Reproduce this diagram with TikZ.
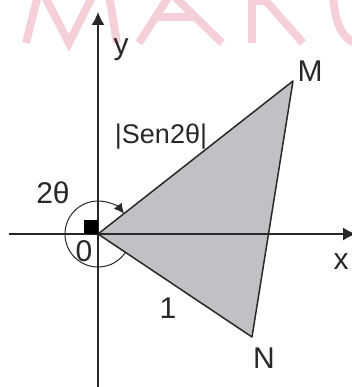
\documentclass[tikz,border=0pt]{standalone}
\usepackage{fontspec}
\setmainfont{Liberation Sans}
\usetikzlibrary{arrows.meta}
\definecolor{wmpink}{RGB}{246,208,216}
\definecolor{trifill}{RGB}{192,193,196}
\definecolor{ink}{RGB}{40,40,40}

\begin{document}
\begin{tikzpicture}[x=1pt, y=1pt, every node/.style={font=\fontsize{30}{30}\selectfont, text=ink, inner sep=0pt}, >={Latex[length=13pt, width=13pt]}]
	\useasboundingbox (0,0) rectangle (351,387);
	% watermark letters at the top, only their feet show
	\begin{scope}[wmpink, line width=8pt]
		\draw (26,344) -- (38,392);
		\draw (44,392) -- (69,344) -- (93,392);
		\draw (109,392) -- (117,344);
		\draw (139,344) -- (171,394) -- (222,344);
		\draw (157,370) -- (196,370);
		\draw (252,344) -- (252,392);
		\draw (252,386) -- (266,386) -- (303,344);
		\draw (333,392) .. controls (335,362) and (343,348) .. (356,344);
	\end{scope}
	\coordinate (O) at (98,153);
	\coordinate (M) at (293,306);
	\coordinate (N) at (252,50);
	\coordinate (xl) at (9,153); \coordinate (xr) at (356,153);
	\coordinate (yb) at (98,-5); \coordinate (yt) at (98,375);
	\fill[trifill] (O) -- (M) -- (N) -- cycle;
	\draw[ink, line width=1.3pt, ->] (xl) -- (xr);
	\draw[ink, line width=1.3pt, ->] (yb) -- (yt);
	\draw[ink, line width=1.5pt, line join=round] (O) -- (M) -- (N) -- cycle;
	\fill[black] (O) rectangle ++(-14,14);
	\draw[ink, line width=1pt, -{Latex[length=10pt, width=10pt]}] (O) ++(-33:33) arc[start angle=-33, end angle=-322, radius=33];
	\node (ylab) at (121,337) {y};
	\node (Mlab) at (310,316) {M};
	\node (xlab) at (341,125) {x};
	\node (Nlab) at (264,29) {N};
	\node (one) at (168,79) {1};
	\node (sen) at (161,250) {\fontsize{27}{27}\selectfont|Sen2θ|};
	\node (ang) at (53,194) {2θ};
	\node (zero) at (84,136) {0};
\end{tikzpicture}
\end{document}
